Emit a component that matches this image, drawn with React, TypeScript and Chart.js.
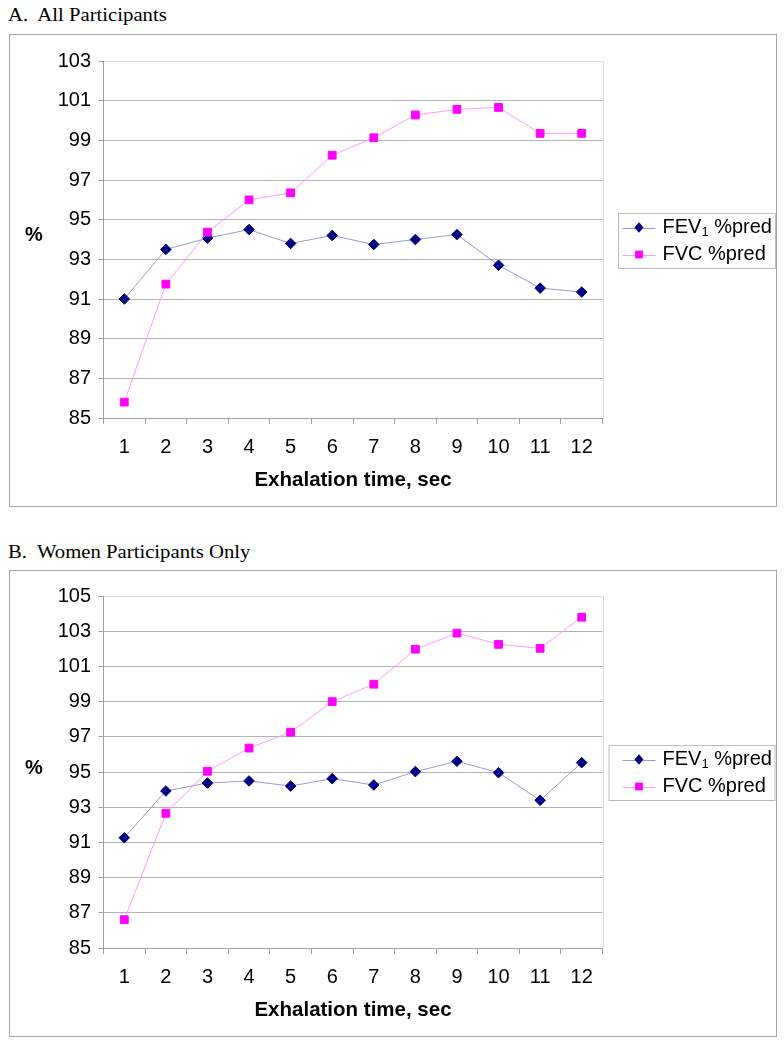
import React, { useEffect, useRef } from "react";
import { Chart, registerables } from "chart.js";

Chart.register(...registerables);

// ---------- data ----------
const EXHALATION_SECONDS = ["1", "2", "3", "4", "5", "6", "7", "8", "9", "10", "11", "12"];

const FEV1_ALL = [91.0, 93.5, 94.07, 94.5, 93.8, 94.2, 93.75, 94.0, 94.25, 92.7, 91.55, 91.35];
const FVC_ALL = [85.8, 91.75, 94.37, 96.0, 96.35, 98.25, 99.13, 100.28, 100.56, 100.66, 99.35, 99.35];

const FEV1_WOMEN = [91.27, 93.93, 94.38, 94.5, 94.21, 94.63, 94.27, 95.03, 95.62, 94.97, 93.4, 95.54];
const FVC_WOMEN = [86.61, 92.66, 95.05, 96.37, 97.27, 99.01, 100.0, 101.99, 102.91, 102.27, 102.04, 103.81];

const FEV1_LABEL = "FEV₁ %pred";
const FVC_LABEL = "FVC %pred";
const X_TITLE = "Exhalation time, sec";
const Y_TITLE = "%";
const TITLE_A = "A.  All Participants";
const TITLE_B = "B.  Women Participants Only";

const Y_MIN = 85;
const Y_MAX_A = 103;
const Y_MAX_B = 105;
const Y_STEP = 2;

const SANS = '"Liberation Sans", Arial, Helvetica, sans-serif';

// ---------- plugins ----------
const SUBS: Record<string, string> = {
  "₀": "0", "₁": "1", "₂": "2", "₃": "3", "₄": "4",
  "₅": "5", "₆": "6", "₇": "7", "₈": "8", "₉": "9",
};

function drawMarker(ctx: CanvasRenderingContext2D, style: string, x: number, y: number, r: number, color: string) {
  ctx.save();
  ctx.fillStyle = color;
  ctx.beginPath();
  if (style === "rectRot") {
    ctx.moveTo(x, y - r);
    ctx.lineTo(x + r * 0.85, y);
    ctx.lineTo(x, y + r);
    ctx.lineTo(x - r * 0.85, y);
    ctx.closePath();
  } else {
    const s = r * Math.SQRT1_2;
    ctx.rect(x - s, y - s, 2 * s, 2 * s);
  }
  ctx.fill();
  ctx.restore();
}

const boxLegendPlugin = {
  id: "boxLegend",
  afterDraw(chart: any, _args: any, opts: any) {
    const { ctx, chartArea } = chart;
    const h = opts.height;
    const top = Math.round((chartArea.top + chartArea.bottom) / 2 - h / 2 + opts.dy) + 0.5;
    const left = opts.left + 0.5;
    ctx.save();
    ctx.fillStyle = "#ffffff";
    ctx.fillRect(left, top, opts.width, h);
    ctx.strokeStyle = "#bdbdbd";
    ctx.lineWidth = 1;
    ctx.strokeRect(left, top, opts.width, h);
    chart.data.datasets.forEach((ds: any, i: number) => {
      const y = top + opts.rows[i];
      ctx.strokeStyle = ds.borderColor;
      ctx.lineWidth = 1;
      ctx.beginPath();
      ctx.moveTo(opts.sampleX0, Math.round(y) + 0.5);
      ctx.lineTo(opts.sampleX1, Math.round(y) + 0.5);
      ctx.stroke();
      drawMarker(ctx, ds.pointStyle, (opts.sampleX0 + opts.sampleX1) / 2, y, ds.pointRadius, ds.pointBackgroundColor);
      let x = opts.textX;
      ctx.fillStyle = "#000";
      ctx.textBaseline = "middle";
      ctx.textAlign = "left";
      for (const ch of Array.from(String(ds.label))) {
        if (SUBS[ch]) {
          ctx.font = `13px ${SANS}`;
          ctx.fillText(SUBS[ch], x, y + 5);
          x += ctx.measureText(SUBS[ch]).width;
        } else {
          ctx.font = `20px ${SANS}`;
          ctx.fillText(ch, x, y);
          x += ctx.measureText(ch).width;
        }
      }
    });
    ctx.restore();
  },
};

const frameAndLabelPlugin = {
  id: "frameAndLabel",
  beforeDatasetsDraw(chart: any) {
    const { ctx, chartArea } = chart;
    ctx.save();
    ctx.strokeStyle = "#dcdcdc";
    ctx.lineWidth = 1;
    const x = Math.round(chartArea.right) + 0.5;
    ctx.beginPath();
    ctx.moveTo(x, chartArea.top);
    ctx.lineTo(x, chartArea.bottom);
    ctx.stroke();
    ctx.restore();
  },
  afterDraw(chart: any, _args: any, opts: any) {
    const { ctx, chartArea } = chart;
    ctx.save();
    ctx.font = `bold 20px ${SANS}`;
    ctx.fillStyle = "#000";
    ctx.textAlign = "center";
    ctx.textBaseline = "middle";
    ctx.fillText(opts.text, opts.x, (chartArea.top + chartArea.bottom) / 2 + opts.dy);
    ctx.restore();
  },
};

// ---------- chart panel ----------
type PanelProps = {
  top: number;
  height: number;
  fev: number[];
  fvc: number[];
  yMax: number;
  padTop: number;
  legendLeft: number;
  legendWidth: number;
  legendDy: number;
};

const CANVAS_W = 766;

function Panel(p: PanelProps) {
  const ref = useRef<HTMLCanvasElement | null>(null);
  useEffect(() => {
    if (!ref.current) return;
    const chart = new Chart(ref.current, {
      type: "line",
      data: {
        labels: EXHALATION_SECONDS,
        datasets: [
          {
            label: FEV1_LABEL,
            data: p.fev,
            borderColor: "#9a9acc",
            borderWidth: 1,
            pointStyle: "rectRot",
            pointRadius: 5.3,
            pointBackgroundColor: "#000080",
            pointBorderColor: "#000080",
            pointBorderWidth: 1,
            tension: 0,
            order: 1,
          } as any,
          {
            label: FVC_LABEL,
            data: p.fvc,
            borderColor: "#ff99ff",
            borderWidth: 1,
            pointStyle: "rect",
            pointRadius: 5.5,
            pointBackgroundColor: "#ff00ff",
            pointBorderColor: "#ff00ff",
            pointBorderWidth: 1,
            tension: 0,
            order: 0,
          } as any,
        ],
      },
      options: {
        responsive: false,
        animation: false,
        events: [],
        layout: { padding: { top: p.padTop, right: CANVAS_W - 592.5, bottom: 0, left: 0 } },
        plugins: {
          legend: { display: false },
          tooltip: { enabled: false },
          boxLegend: {
            left: p.legendLeft,
            width: p.legendWidth,
            height: 55,
            dy: p.legendDy,
            rows: [14, 41],
            sampleX0: 612.5,
            sampleX1: 645.5,
            textX: 652.5,
          },
          frameAndLabel: { text: Y_TITLE, x: 24, dy: -4 },
        } as any,
        scales: {
          x: {
            type: "category",
            offset: true,
            grid: {
              display: true,
              offset: true,
              drawOnChartArea: false,
              drawTicks: true,
              tickLength: 6,
              tickColor: "#a0a0a0",
              color: "#a0a0a0",
            },
            border: { color: "#a0a0a0", width: 1 },
            ticks: {
              color: "#000",
              font: { family: SANS, size: 20, lineHeight: 1.2 },
              padding: 11.3,
              maxRotation: 0,
              autoSkip: false,
            },
            title: {
              display: true,
              text: X_TITLE,
              color: "#000",
              font: { family: SANS, size: 20.5, weight: "bold", lineHeight: 1.2 },
              padding: { top: 0, bottom: 13.4 },
            },
            afterFit: (s: any) => {
              s.height = 88;
            },
          },
          y: {
            min: Y_MIN,
            max: p.yMax,
            grid: {
              color: (c: any) => (c.tick && c.tick.value === p.yMax ? "#dedede" : "#b2b2b2"),
              tickColor: "#a0a0a0",
              drawTicks: true,
              tickLength: 5,
              lineWidth: 1,
            },
            border: { color: "#a0a0a0", width: 1 },
            ticks: {
              stepSize: Y_STEP,
              color: "#000",
              font: { family: SANS, size: 20, lineHeight: 1.2 },
              padding: 7.5,
            },
            afterFit: (s: any) => {
              s.width = 93.5;
            },
          },
        },
      } as any,
      plugins: [frameAndLabelPlugin, boxLegendPlugin],
    });
    return () => chart.destroy();
  }, []);

  return (
    <div
      style={{
        position: "absolute",
        left: 9,
        top: p.top,
        width: 768,
        height: p.height,
        border: "1px solid #a6a6a6",
        boxSizing: "border-box",
        background: "#fff",
      }}
    >
      <canvas ref={ref} width={CANVAS_W} height={p.height - 2} style={{ display: "block" }} />
    </div>
  );
}

const titleStyle: React.CSSProperties = {
  position: "absolute",
  left: 8,
  fontFamily: '"Liberation Serif", "Times New Roman", Times, serif',
  fontSize: 19,
  lineHeight: "20px",
  whiteSpace: "pre",
  color: "#000",
  transform: "scaleX(1.09)",
  transformOrigin: "left top",
};

export default function App() {
  return (
    <div style={{ position: "absolute", left: 0, top: 0, width: 784, height: 1050, background: "#fff" }}>
      <div style={{ ...titleStyle, top: 5 }}>{TITLE_A}</div>
      <Panel
        top={34}
        height={473}
        fev={FEV1_ALL}
        fvc={FVC_ALL}
        yMax={Y_MAX_A}
        padTop={26}
        legendLeft={608}
        legendWidth={157}
        legendDy={1}
      />
      <div style={{ ...titleStyle, top: 542 }}>{TITLE_B}</div>
      <Panel
        top={570}
        height={467}
        fev={FEV1_WOMEN}
        fvc={FVC_WOMEN}
        yMax={Y_MAX_B}
        padTop={25.3}
        legendLeft={598.5}
        legendWidth={166}
        legendDy={0.5}
      />
    </div>
  );
}
